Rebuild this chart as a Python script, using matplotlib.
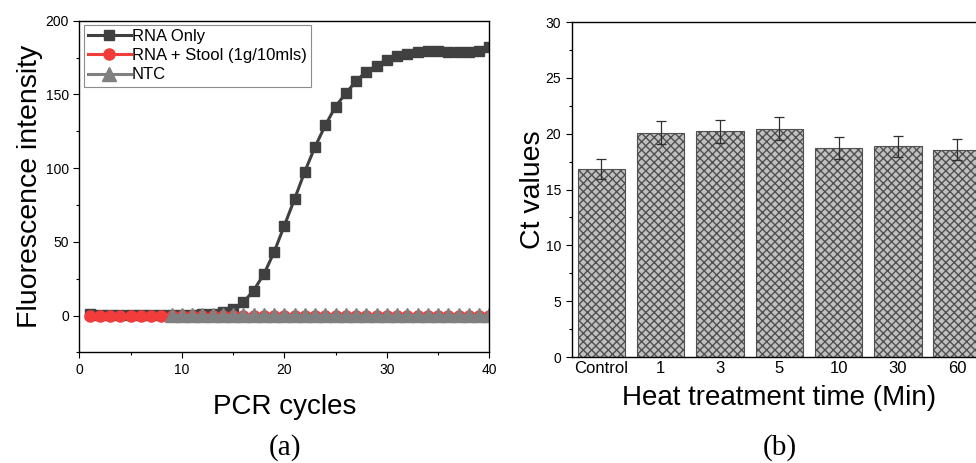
import matplotlib
matplotlib.use("Agg")
import matplotlib.pyplot as plt
import numpy as np

plt.rcParams['font.family'] = ['Liberation Sans', 'DejaVu Sans']

# === PANEL (a): amplification curves ===
cycles = np.arange(1, 41)
rna_only = [1.0, 0.3, 0.3, 0.3, 0.3, 0.3, 0.3, 0.3, 0.3, 0.3,
            0.4, 0.8, 1.4, 2.2, 4.5, 9, 17, 28, 43, 61,
            79, 97.7, 114.5, 129, 141.8, 150.8, 159, 165.5, 169.5, 173.4,
            176, 177.5, 178.6, 179.5, 179.5, 179, 178.5, 179, 179.7, 182]
rna_stool = [0.0] * 40
ntc_cycles = np.arange(9, 41)
ntc = [0.4] * len(ntc_cycles)

# === PANEL (b): Ct values vs heat treatment ===
heat_labels = ["Control", "1", "3", "5", "10", "30", "60"]
ct_values = [16.85, 20.1, 20.22, 20.45, 18.75, 18.88, 18.58]
ct_err = [0.9, 1.0, 1.05, 1.05, 0.98, 0.95, 0.98]

fig = plt.figure(figsize=(9.76, 4.63), dpi=100)

# ---------------- (a) ----------------
ax1 = fig.add_axes([0.0813, 0.2387, 0.42, 0.7166])
ax1.plot(cycles, rna_only, color='#404040', marker='s', ms=7.5, lw=2.2,
         label='RNA Only')
ax1.plot(cycles, rna_stool, color='#f23c3c', marker='o', ms=8, lw=2.2,
         label='RNA + Stool (1g/10mls)')
ax1.plot(ntc_cycles, ntc, color='#808080', marker='^', ms=10, lw=2.2,
         label='NTC')

ax1.set_xlim(0, 40)
ax1.set_ylim(-25, 200)
ax1.set_xticks([0, 10, 20, 30, 40])
ax1.set_xticks([5, 15, 25, 35], minor=True)
ax1.set_yticks([0, 50, 100, 150, 200])
ax1.set_yticks([-25, 25, 75, 125, 175], minor=True)
ax1.tick_params(which='major', direction='out', length=4, width=0.8, labelsize=10)
ax1.tick_params(which='minor', direction='out', length=2.5, width=0.8)
ax1.set_xlabel("PCR cycles", fontsize=20, labelpad=12)
ax1.set_ylabel("Fluorescence intensity", fontsize=20.5, labelpad=2)
for s in ax1.spines.values():
    s.set_linewidth(1.0)

leg = ax1.legend(loc='upper left', fontsize=12, frameon=True, fancybox=False,
                 edgecolor='#707070', handlelength=2.6, handletextpad=0.05,
                 labelspacing=0.25, borderpad=0.25, borderaxespad=0.25,
                 markerscale=1.0)
leg.get_frame().set_linewidth(0.8)

fig.text(0.292, 0.005, "(a)", fontsize=21, family='Liberation Serif',
         ha='center', va='bottom')

# ---------------- (b) ----------------
ax2 = fig.add_axes([0.5858, 0.2289, 0.4253, 0.7235])
x = np.arange(len(heat_labels))
ax2.bar(x, ct_values, width=0.8, color='#c0c0c0', edgecolor='#505050',
        linewidth=0.8, hatch='xxxx')
ax2.errorbar(x, ct_values, yerr=ct_err, fmt='none', ecolor='#303030',
             elinewidth=0.9, capsize=3.5, capthick=0.9)

ax2.set_xlim(-0.5, 6.5)
ax2.set_ylim(0, 30)
ax2.set_xticks(x)
ax2.set_xticklabels(heat_labels)
ax2.set_yticks(np.arange(0, 31, 5))
ax2.set_yticks(np.arange(2.5, 30, 5), minor=True)
ax2.tick_params(axis='x', length=0, labelsize=12, pad=3)
ax2.tick_params(axis='y', which='major', direction='out', length=4,
                width=0.8, labelsize=10)
ax2.tick_params(axis='y', which='minor', direction='out', length=2.5, width=0.8)
ax2.set_xlabel("Heat treatment time (Min)", fontsize=20, labelpad=6)
ax2.set_ylabel("Ct values", fontsize=20.5, labelpad=0)
for s in ax2.spines.values():
    s.set_linewidth(1.0)

fig.text(0.799, 0.005, "(b)", fontsize=21, family='Liberation Serif',
         ha='center', va='bottom')

fig.savefig("out.png", dpi=100)
